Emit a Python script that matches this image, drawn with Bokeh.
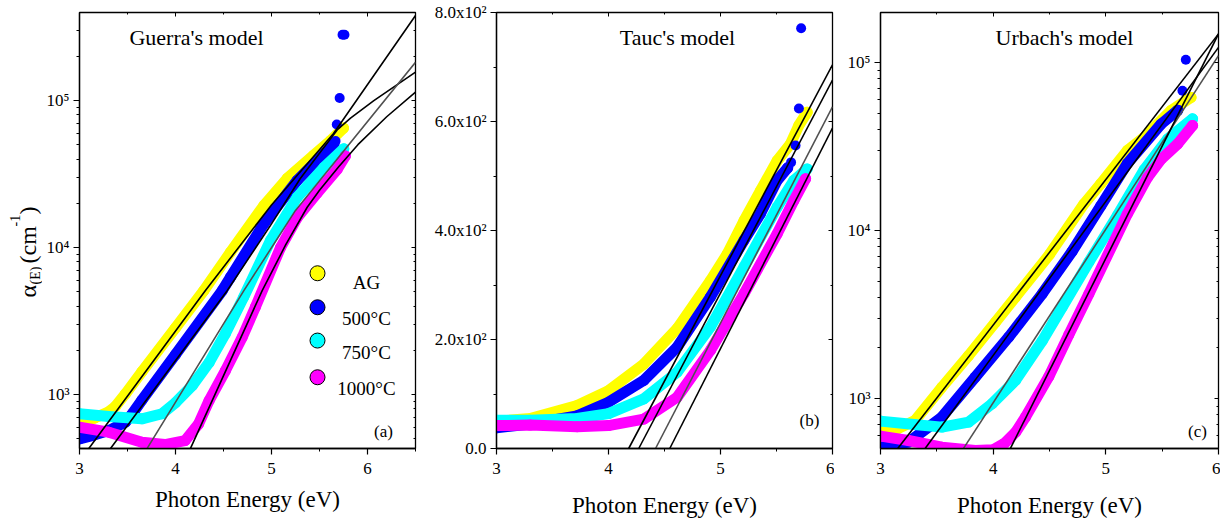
import math
from bokeh.plotting import figure
from bokeh.layouts import row
from bokeh.models import FixedTicker, Label, LinearAxis, LogAxis, Range1d
from bokeh.embed import file_html
from bokeh.resources import INLINE

FONT = "Liberation Serif"

series_labels = ["AG", "500°C", "750°C", "1000°C"]
series_colors = ["#ffff00", "#0000ff", "#00ffff", "#ff00ff"]
fit_colors = ["black", "black", "#505050", "black"]

# ---------------- Panel (a): Guerra's model (log scale) ----------------
guerra_E_ag = [3.0, 3.15, 3.3, 3.374, 3.478, 3.65, 4.0, 4.295, 4.573, 4.92, 5.163, 5.44, 5.615, 5.75]
guerra_ag = [670, 690, 760, 830, 1010, 1430, 2840, 5090, 9300, 19300, 29500, 42500, 53400, 65000]
guerra_E_500 = [3.0, 3.15, 3.305, 3.478, 3.55, 3.65, 4.0, 4.486, 4.573, 4.92, 5.268, 5.51, 5.65]
guerra_500 = [500, 530, 569, 649, 740, 916, 1870, 5090, 6280, 14500, 28600, 41200, 50700]
guerra_E_500_dots = [5.667, 5.68, 5.71, 5.74, 5.76]
guerra_500_dots = [53000, 68700, 104000, 280000, 280000]
guerra_E_750 = [3.0, 3.305, 3.65, 3.86, 4.0, 4.174, 4.35, 4.52, 4.71, 4.99, 5.268, 5.545, 5.753]
guerra_750 = [740, 708, 684, 740, 880, 1150, 1650, 2600, 4600, 11200, 22000, 35000, 47000]
guerra_E_1000 = [3.0, 3.305, 3.65, 3.89, 4.1, 4.24, 4.35, 4.52, 4.695, 4.833, 5.094, 5.268, 5.476, 5.684, 5.77]
guerra_1000 = [600, 555, 474, 457, 486, 630, 910, 1455, 2450, 3950, 10000, 16000, 23500, 34000, 42000]

guerra_fit_E_ag = [3.097, 4.31, 5.0, 5.646, 6.5]
guerra_fit_ag = [430, 5090, 19500, 59700, 379000]
guerra_fit_E_500 = [3.323, 4.538, 5.0, 5.3, 5.684, 5.823, 6.066, 6.5]
guerra_fit_500 = [430, 5090, 14500, 29500, 63100, 75900, 100000, 156000]
guerra_fit_E_750 = [3.705, 4.2, 4.712, 5.25, 6.5]
guerra_fit_750 = [430, 1450, 5090, 17900, 182000]
guerra_fit_E_1000 = [4.156, 4.903, 5.15, 5.372, 5.5, 5.7, 5.9, 6.2, 6.5]
guerra_fit_1000 = [430, 5090, 10500, 18800, 24500, 35500, 50100, 77600, 114000]

# ---------------- Panel (b): Tauc's model (linear scale) ----------------
tauc_E_ag = [3.0, 3.3, 3.72, 4.0, 4.315, 4.613, 4.91, 5.06, 5.21, 5.357, 5.506, 5.625, 5.70, 5.774]
tauc_ag = [50, 55, 79, 106, 155, 220, 308, 357, 418, 473, 528, 559, 593, 617]
tauc_E_500 = [3.0, 3.3, 3.72, 4.0, 4.315, 4.613, 4.91, 5.21, 5.357, 5.506, 5.6]
tauc_500 = [38, 45, 60, 85, 125, 186, 278, 382, 431, 492, 515]
tauc_E_500_dots = [5.63, 5.67, 5.70, 5.72]
tauc_500_dots = [525, 556, 624, 771]
tauc_E_750 = [3.0, 3.3, 3.72, 4.0, 4.315, 4.613, 4.91, 5.21, 5.506, 5.655, 5.774]
tauc_750 = [52, 52, 55, 64, 91, 140, 223, 333, 443, 492, 513]
tauc_E_1000 = [3.0, 3.3, 3.72, 4.0, 4.315, 4.613, 4.91, 5.21, 5.506, 5.655, 5.76]
tauc_1000 = [42, 43, 40, 42, 54, 94, 180, 284, 394, 455, 495]

tauc_fit_E_ag = [4.18, 6.0]
tauc_fit_ag = [0, 704]
tauc_fit_E_500 = [4.27, 6.0]
tauc_fit_500 = [0, 676]
tauc_fit_E_750 = [4.42, 6.0]
tauc_fit_750 = [0, 627]
tauc_fit_E_1000 = [4.547, 6.0]
tauc_fit_1000 = [0, 588]

# ---------------- Panel (c): Urbach's model (log scale) ----------------
urbach_E_ag = [3.0, 3.15, 3.307, 3.545, 3.782, 4.02, 4.198, 4.5, 4.806, 4.955, 5.19, 5.34, 5.578, 5.756]
urbach_ag = [640, 660, 740, 1167, 1800, 2840, 4010, 7200, 14400, 19000, 29900, 35900, 51800, 62000]
urbach_E_500 = [3.0, 3.248, 3.545, 3.841, 4.138, 4.435, 4.7, 4.955, 5.19, 5.49, 5.638]
urbach_500 = [513, 550, 775, 1340, 2320, 4200, 7500, 14000, 25000, 43000, 52000]
urbach_E_500_dots = [5.68, 5.71]
urbach_500_dots = [68000, 104000]
urbach_E_750 = [3.0, 3.3, 3.545, 3.782, 3.99, 4.198, 4.435, 4.613, 4.85, 5.103, 5.34, 5.548, 5.77]
urbach_750 = [733, 700, 675, 723, 930, 1280, 2200, 3500, 6500, 12300, 23000, 35000, 46200]
urbach_E_1000 = [3.0, 3.248, 3.545, 3.841, 4.0, 4.1, 4.2, 4.287, 4.494, 4.672, 4.85, 5.19, 5.37, 5.489, 5.638, 5.77]
urbach_1000 = [597, 562, 513, 490, 495, 540, 630, 775, 1350, 2400, 4200, 12500, 20700, 26500, 32800, 42200]

urbach_fit_E_ag = [3.153, 6.0]
urbach_fit_ag = [504, 148000]
urbach_fit_E_500 = [3.396, 6.0]
urbach_fit_500 = [504, 123000]
urbach_fit_E_750 = [3.737, 6.0]
urbach_fit_750 = [504, 110000]
urbach_fit_E_1000 = [4.153, 6.0]
urbach_fit_1000 = [504, 148000]

# tick definitions
x_ticks = [3, 4, 5, 6]
x_minor_a = [3.5, 4.5, 5.5, 6.5]
x_minor_bc = [3.5, 4.5, 5.5]
log_major = [1e2, 1e3, 1e4, 1e5, 1e6]
log_major_labels = {100: "10²", 1000: "10³", 10000: "10⁴", 100000: "10⁵", 1000000: "10⁶"}
log_minor = [k * 10 ** n for n in (2, 3, 4, 5) for k in range(2, 10)]
lin_major = [0, 200, 400, 600, 800]
lin_major_labels = {0: "0.0", 200: "2.0x10²", 400: "4.0x10²", 600: "6.0x10²", 800: "8.0x10²"}
lin_minor = [100, 300, 500, 700]

H = 525
TOP = 12
BOTTOM = 77
YLAB_W = 42


def make_fig(width, lb, rb, xr, yr, log, yticks, yminor, ylabels, xminor, xlabel_standoff):
    p = figure(width=width, height=H, x_range=Range1d(*xr), y_range=Range1d(*yr),
               y_axis_type="log" if log else "linear",
               output_backend="svg", toolbar_location=None,
               min_border_left=lb, min_border_right=rb,
               min_border_top=TOP, min_border_bottom=BOTTOM)
    p.xgrid.visible = False
    p.ygrid.visible = False
    p.outline_line_color = "black"
    p.outline_line_width = 1.3
    p.outline_line_alpha = 1.0
    p.background_fill_color = "white"
    p.border_fill_color = "white"

    xa = p.xaxis[0]
    xa.ticker = FixedTicker(ticks=x_ticks, minor_ticks=xminor)
    ya = p.yaxis[0]
    ya.ticker = FixedTicker(ticks=yticks, minor_ticks=yminor)
    ya.major_label_overrides = ylabels
    for ax in (xa, ya):
        ax.axis_line_color = "black"
        ax.axis_line_width = 1.3
        ax.major_tick_line_color = "black"
        ax.minor_tick_line_color = "black"
        ax.major_tick_line_width = 1.2
        ax.minor_tick_line_width = 1.0
        ax.major_tick_out = 6
        ax.major_tick_in = 0
        ax.minor_tick_out = 3
        ax.minor_tick_in = 0
        ax.major_label_text_font = FONT
        ax.major_label_text_font_size = "17px"
        ax.major_label_text_color = "black"
    xa.major_label_standoff = 8
    ya.major_label_standoff = 4
    xa.axis_label = "Photon Energy (eV)"
    xa.axis_label_text_font = FONT
    xa.axis_label_text_font_size = "23px"
    xa.axis_label_text_font_style = "normal"
    xa.axis_label_text_color = "black"
    xa.axis_label_standoff = xlabel_standoff

    # mirrored tick marks (top / right), pointing inward, invisible labels
    top = LinearAxis(ticker=FixedTicker(ticks=x_ticks, minor_ticks=xminor),
                     major_label_text_font_size="1px", major_label_text_alpha=0.0,
                     major_label_standoff=0,
                     major_tick_out=0, major_tick_in=4, minor_tick_out=0, minor_tick_in=2,
                     axis_line_color=None, major_tick_line_color="black",
                     minor_tick_line_color="black")
    p.add_layout(top, "above")
    RightAxis = LogAxis if log else LinearAxis
    right = RightAxis(ticker=FixedTicker(ticks=yticks, minor_ticks=yminor),
                      major_label_text_font_size="1px", major_label_text_alpha=0.0,
                      major_label_standoff=0,
                      major_tick_out=0, major_tick_in=4, minor_tick_out=0, minor_tick_in=2,
                      axis_line_color=None, major_tick_line_color="black",
                      minor_tick_line_color="black")
    p.add_layout(right, "right")
    return p


def draw_panel(p, bands, dots, fits, band_width):
    for (E, A), c in zip(bands, series_colors):
        p.line(E, A, line_width=band_width, color=c, line_cap="round", line_join="round")
        p.scatter(E, A, size=band_width, color=c, line_color=None)
    if dots is not None:
        E, A = dots
        p.scatter(E, A, size=band_width - 1, color=series_colors[1], line_color=None)
    for (E, A), c in zip(fits, fit_colors):
        p.line(E, A, line_width=1.6, color=c)


def add_text(p, x, y, text, size, align="center", baseline="alphabetic", angle=0.0):
    p.add_layout(Label(x=x, y=y, text=text, text_font=FONT,
                       text_font_size=f"{size}px", text_align=align,
                       text_baseline=baseline, angle=angle, text_color="black"))


# pixel -> data helpers (used only for placing annotations)
def pa(px, py):
    return 3 + (px - 79) / 96.0, 10 ** (5 - (py - 100) / 147.0)


def pb(px, py):
    return 3 + (px - 496) / 112.0, (448 - py) / 0.545


def pc(px, py):
    return 3 + (px - 880) / 112.67, 10 ** (5 - (py - 62) / 168.0)


# ---------- narrow strip holding the rotated y-axis title of panel (a) ----------
# The row aligns its frames (top 12 px, bottom 77 px), so map data y = 525 - pixel y.
pY = figure(width=YLAB_W, height=H, x_range=Range1d(0, YLAB_W),
            y_range=Range1d(BOTTOM, H - TOP),
            output_backend="svg", toolbar_location=None,
            x_axis_location=None, y_axis_location=None,
            min_border_left=0, min_border_right=0,
            min_border_top=TOP, min_border_bottom=BOTTOM)
pY.xgrid.visible = False
pY.ygrid.visible = False
pY.outline_line_color = None
pY.background_fill_color = "white"
pY.border_fill_color = "white"
ylab_parts = [("α", 27, 297, 24), ("(E)", 35, 284, 14), ("(cm", 27, 263, 24),
              ("-1", 14, 226, 14), (")", 27, 214, 24)]
for txt, bx, by, fs in ylab_parts:
    add_text(pY, bx, H - by, txt, fs, align="left", baseline="alphabetic",
             angle=math.pi / 2)

# ---------- figure (a) ----------
pA = make_fig(418 - YLAB_W, 79 - YLAB_W, 3, (3, 6.5), (10 ** 2.633, 10 ** 5.599), True,
              log_major, log_minor, log_major_labels, x_minor_a, 10)
draw_panel(pA,
           [(guerra_E_ag, guerra_ag), (guerra_E_500, guerra_500),
            (guerra_E_750, guerra_750), (guerra_E_1000, guerra_1000)],
           (guerra_E_500_dots, guerra_500_dots),
           [(guerra_fit_E_ag, guerra_fit_ag), (guerra_fit_E_500, guerra_fit_500),
            (guerra_fit_E_750, guerra_fit_750), (guerra_fit_E_1000, guerra_fit_1000)],
           11)
x, y = pa(196, 37)
add_text(pA, x, y, "Guerra's model", 22)
x, y = pa(383, 431)
add_text(pA, x, y, "(a)", 17)

# legend
leg_py = [272.7, 306.7, 340.0, 376.7]
leg_text_py = [282, 318, 352, 388]
lx = [pa(317, py)[0] for py in leg_py]
ly = [pa(317, py)[1] for py in leg_py]
pA.scatter(lx, ly, size=15, fill_color=series_colors, line_color="black", line_width=1)
for lab, tpy in zip(series_labels, leg_text_py):
    x, y = pa(366, tpy)
    add_text(pA, x, y, lab, 19)

# ---------- figure (b) ----------
pB = make_fig(416, 78, 2, (3, 6), (0, 800), False,
              lin_major, lin_minor, lin_major_labels, x_minor_bc, 16)
draw_panel(pB,
           [(tauc_E_ag, tauc_ag), (tauc_E_500, tauc_500),
            (tauc_E_750, tauc_750), (tauc_E_1000, tauc_1000)],
           (tauc_E_500_dots, tauc_500_dots),
           [(tauc_fit_E_ag, tauc_fit_ag), (tauc_fit_E_500, tauc_fit_500),
            (tauc_fit_E_750, tauc_fit_750), (tauc_fit_E_1000, tauc_fit_1000)],
           11)
x, y = pb(677, 37)
add_text(pB, x, y, "Tauc's model", 22)
x, y = pb(809, 420)
add_text(pB, x, y, "(b)", 17)

# ---------- figure (c) ----------
pC = make_fig(386, 46, 2, (3, 6), (10 ** 2.702, 10 ** 5.298), True,
              log_major, log_minor, log_major_labels, x_minor_bc, 16)
draw_panel(pC,
           [(urbach_E_ag, urbach_ag), (urbach_E_500, urbach_500),
            (urbach_E_750, urbach_750), (urbach_E_1000, urbach_1000)],
           (urbach_E_500_dots, urbach_500_dots),
           [(urbach_fit_E_ag, urbach_fit_ag), (urbach_fit_E_500, urbach_fit_500),
            (urbach_fit_E_750, urbach_fit_750), (urbach_fit_E_1000, urbach_fit_1000)],
           11)
x, y = pc(1064, 37)
add_text(pC, x, y, "Urbach's model", 22)
x, y = pc(1197, 431)
add_text(pC, x, y, "(c)", 17)

layout = row(pY, pA, pB, pC, spacing=0)
open("out.html", "w").write(file_html(layout, INLINE))
